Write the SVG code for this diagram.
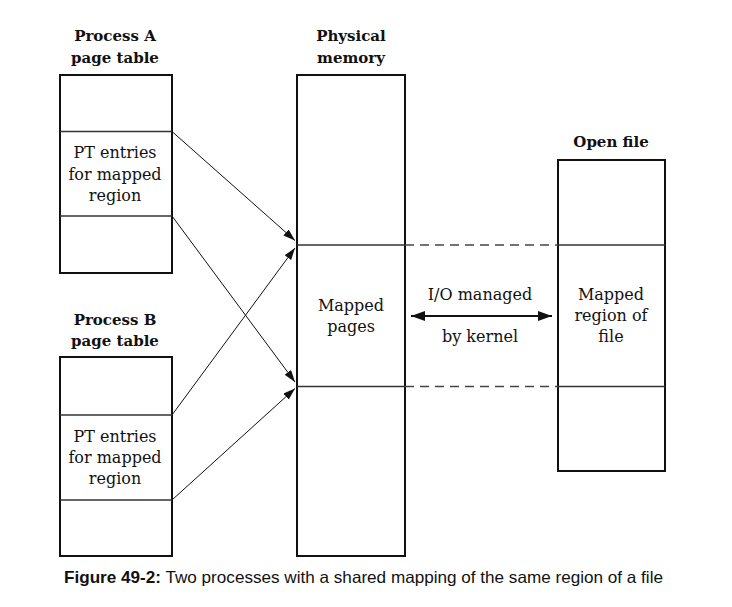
<svg xmlns="http://www.w3.org/2000/svg" width="732" height="607" viewBox="0 0 732 607">
<defs>
<style>
.box{fill:#fff;stroke:#111;stroke-width:2}
.div{stroke:#333;stroke-width:1.3;fill:none}
.dash{stroke:#444;stroke-width:1.3;stroke-dasharray:9 6;fill:none}
.conn{stroke:#111;stroke-width:1;fill:none}
.bi{stroke:#111;stroke-width:2.2;fill:none}
.t{font-family:"DejaVu Serif",serif;font-size:16px;fill:#111;text-anchor:middle}
.h{font-family:"DejaVu Serif",serif;font-size:15px;font-weight:bold;fill:#111;text-anchor:middle}
.cap{font-family:"Liberation Sans",Arial,sans-serif;font-size:16.5px;fill:#111}
</style>
<marker id="ah" markerUnits="userSpaceOnUse" markerWidth="13" markerHeight="9" refX="12" refY="4" orient="auto">
<path d="M0,0 L12,4 L0,8 z" fill="#111"/>
</marker>
<marker id="bh" markerUnits="userSpaceOnUse" markerWidth="15" markerHeight="11" refX="14" refY="5" orient="auto-start-reverse">
<path d="M0,0 L14,5 L0,10 z" fill="#111"/>
</marker>
</defs>

<g id="processA">
<text class="h" x="115" y="41">Process A</text>
<text class="h" x="115" y="62.5">page table</text>
<rect class="box" x="60" y="75" width="112" height="198"/>
<line class="div" x1="60" y1="131.5" x2="172" y2="131.5"/>
<line class="div" x1="60" y1="216" x2="172" y2="216"/>
<text class="t" x="115" y="158">PT entries</text>
<text class="t" x="115" y="180">for mapped</text>
<text class="t" x="115" y="201">region</text>
</g>

<g id="processB">
<text class="h" x="115" y="325">Process B</text>
<text class="h" x="115" y="346">page table</text>
<rect class="box" x="60" y="357" width="112" height="199"/>
<line class="div" x1="60" y1="415" x2="172" y2="415"/>
<line class="div" x1="60" y1="500" x2="172" y2="500"/>
<text class="t" x="115" y="441.5">PT entries</text>
<text class="t" x="115" y="463">for mapped</text>
<text class="t" x="115" y="484">region</text>
</g>

<g id="physical">
<text class="h" x="351" y="41">Physical</text>
<text class="h" x="351" y="62.5">memory</text>
<rect class="box" x="297" y="75" width="108" height="481"/>
<line class="div" x1="297" y1="245" x2="405" y2="245"/>
<line class="div" x1="297" y1="386.5" x2="405" y2="386.5"/>
<text class="t" x="351" y="311">Mapped</text>
<text class="t" x="351" y="332">pages</text>
</g>

<g id="openfile">
<text class="h" x="611" y="147">Open file</text>
<rect class="box" x="558" y="160" width="107" height="311"/>
<line class="div" x1="558" y1="245" x2="665" y2="245"/>
<line class="div" x1="558" y1="386.5" x2="665" y2="386.5"/>
<text class="t" x="611" y="300">Mapped</text>
<text class="t" x="611" y="321">region of</text>
<text class="t" x="611" y="342">file</text>
</g>

<g id="connectors">
<line class="dash" x1="405" y1="245" x2="558" y2="245"/>
<line class="dash" x1="405" y1="386.5" x2="558" y2="386.5"/>
<line class="conn" x1="172" y1="131.5" x2="295" y2="240.5" marker-end="url(#ah)"/>
<line class="conn" x1="172" y1="216" x2="295" y2="382" marker-end="url(#ah)"/>
<line class="conn" x1="172" y1="415" x2="295" y2="248" marker-end="url(#ah)"/>
<line class="conn" x1="172" y1="500" x2="295" y2="388.5" marker-end="url(#ah)"/>
<line class="bi" x1="411" y1="316" x2="552" y2="316" marker-start="url(#bh)" marker-end="url(#bh)"/>
<text class="t" x="480" y="300">I/O managed</text>
<text class="t" x="480" y="342">by kernel</text>
</g>

<g id="caption">
<text class="cap" x="64" y="583" textLength="599" lengthAdjust="spacingAndGlyphs"><tspan font-weight="bold">Figure 49-2:</tspan> Two processes with a shared mapping of the same region of a file</text>
</g>
</svg>
